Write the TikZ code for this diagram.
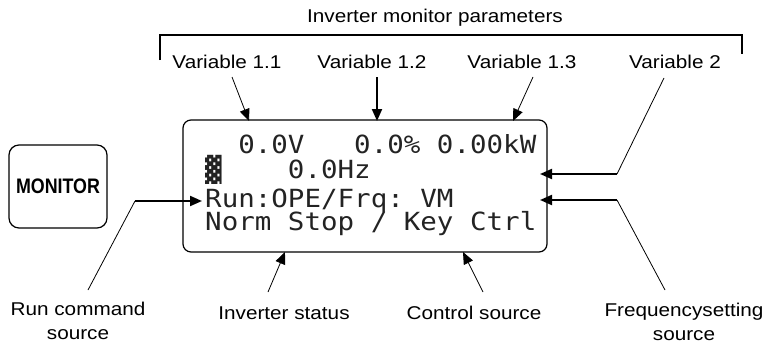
\documentclass[tikz,border=0pt]{standalone}
\usepackage{fontspec}
\setmainfont{Liberation Sans}[FakeStretch=1.12]
\newfontfamily\lcdfont{DejaVu Sans Mono}[FakeStretch=1.1]
\newfontfamily\keyfont{Liberation Sans}[FakeStretch=0.85]
\usepackage{tikz}
\usetikzlibrary{arrows.meta,positioning}
\definecolor{lcdc}{RGB}{35,35,35}

\begin{document}
\begin{tikzpicture}[x=1pt,y=-1pt,font=\fontsize{18.5}{24}\selectfont,>={Triangle[length=12pt,width=10pt]}]
\tikzstyle{lbl}=[inner sep=0pt,align=center]
\tikzstyle{ln}=[lcdc,anchor=base west,inner sep=0pt,font=\lcdfont\fontsize{25}{25}\selectfont]
\tikzstyle{thin}=[line width=0.8pt]
\tikzstyle{bold}=[line width=2pt]
\useasboundingbox (0,0) rectangle (770,345);
% keypad and display
\node[draw,rounded corners=10pt,line width=1.2pt,minimum width=98pt,minimum height=83pt,
  font=\keyfont\bfseries\fontsize{21}{21}\selectfont] (mon) at (58,186.5) {MONITOR};
\node[draw,rounded corners=8pt,line width=1.2pt,minimum width=364pt,minimum height=132pt] (lcd) at (365,186) {};
\node[ln] (l1) at (205,153) {~~0.0V~~~0.0\%~0.00kW};
\node[ln] (l2) at (205,178) {▓~~~~0.0Hz};
\node[ln] (l3) at (205,207) {Run:OPE/Frq:~VM};
\node[ln] (l4) at (205,230) {Norm~Stop~/~Key~Ctrl};
% parameter bracket
\node[lbl] (par) at (435,18) {Inverter monitor parameters};
\draw[bold] (160,60) |- (742,35) -- (742,54);
\node[lbl] (v11) at (227,62) {Variable 1.1};
\node[lbl] (v12) at (372,62) {Variable 1.2};
\node[lbl] (v13) at (522,62) {Variable 1.3};
\node[lbl] (v2) at (675,62) {Variable 2};
\coordinate (s11) at (232,77); \coordinate (t11) at (249,121);
\coordinate (s12) at (377,77); \coordinate (t12) at (377,121);
\coordinate (s13) at (533,77); \coordinate (t13) at (513,121);
\coordinate (s2) at (664,78);  \coordinate (k2) at (617,174); \coordinate (t2) at (540,174);
\draw[->,thin] (s11) -- (t11);
\draw[->,bold] (s12) -- (t12);
\draw[->,thin] (s13) -- (t13);
\draw[thin] (s2) -- (k2);
\draw[->,bold] (k2) -- (t2);
% sources and status
\node[lbl] (run) at (78,321) {Run command\\source};
\node[lbl] (frq) at (684,322) {Frequencysetting\\source};
\node[lbl] (sta) at (284,313) {Inverter status};
\node[lbl] (ctl) at (474,313) {Control source};
\coordinate (sr) at (88,290);  \coordinate (kr) at (135,201); \coordinate (tr) at (202,201);
\coordinate (sf) at (665,290); \coordinate (kf) at (617,200); \coordinate (tf) at (540,200);
\coordinate (ss) at (268,292); \coordinate (ts) at (285,252);
\coordinate (sc) at (483,292); \coordinate (tc) at (463,252);
\draw[thin] (sr) -- (kr);
\draw[->,bold] (kr) -- (tr);
\draw[thin] (sf) -- (kf);
\draw[->,bold] (kf) -- (tf);
\draw[->,thin] (ss) -- (ts);
\draw[->,thin] (sc) -- (tc);
\end{tikzpicture}
\end{document}
